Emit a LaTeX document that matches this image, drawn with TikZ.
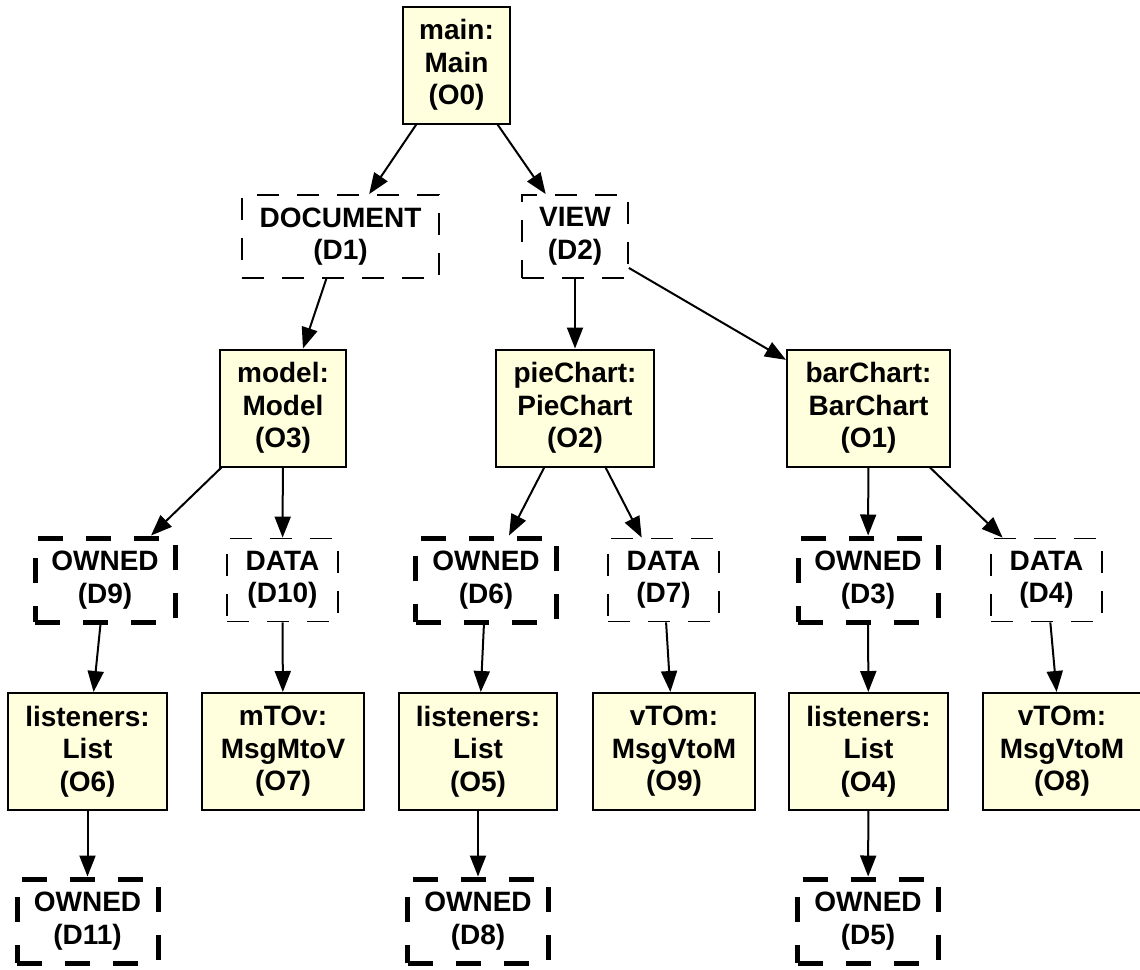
\documentclass[tikz,border=0pt]{standalone}
\usepackage{fontspec}
\setmainfont{Liberation Sans}
\usetikzlibrary{arrows.meta}
\definecolor{objfill}{RGB}{255,255,221}
\begin{document}
\begin{tikzpicture}[x=1pt,y=-1pt,
  lbl/.style={font=\fontsize{28}{32.5}\selectfont\bfseries, align=center, inner sep=0pt},
  objbox/.style={lbl, draw=black, line width=2pt, fill=objfill, minimum height=117pt},
  dimbox/.style={lbl, draw=black, line width=1.8pt, dash pattern=on 22pt off 18pt, minimum height=83pt},
  ownbox/.style={lbl, draw=black, line width=5pt, dash pattern=on 25pt off 23pt, minimum height=84pt},
  link/.style={draw=black, line width=2pt, -{Triangle[length=21pt,width=16pt]}}
]
\useasboundingbox (0,0) rectangle (1140,969);

% objects and dimensions, top to bottom
\node[objbox, minimum width=107pt] (O0) at (456.5,65) {main:\\Main\\(O0)};

\node[dimbox, minimum width=197pt] (D1) at (340.5,236.5) {DOCUMENT\\(D1)};
\node[dimbox, minimum width=106pt] (D2) at (575,236.5) {VIEW\\(D2)};

\node[objbox, minimum width=126pt] (O3) at (283,408) {model:\\Model\\(O3)};
\node[objbox, minimum width=158pt] (O2) at (575,408) {pieChart:\\PieChart\\(O2)};
\node[objbox, minimum width=163pt] (O1) at (868.5,408) {barChart:\\BarChart\\(O1)};

\node[ownbox, minimum width=140pt] (D9) at (105,580) {OWNED\\(D9)};
\node[dimbox, minimum width=111pt] (D10) at (282.5,580) {DATA\\(D10)};
\node[ownbox, minimum width=141pt] (D6) at (486,580) {OWNED\\(D6)};
\node[dimbox, minimum width=111pt] (D7) at (663.5,580) {DATA\\(D7)};
\node[ownbox, minimum width=140pt] (D3) at (868,580) {OWNED\\(D3)};
\node[dimbox, minimum width=111pt] (D4) at (1046.5,580) {DATA\\(D4)};

\node[objbox, minimum width=159pt] (O6) at (87.5,751.5) {listeners:\\List\\(O6)};
\node[objbox, minimum width=162pt] (O7) at (283,751.5) {mTOv:\\MsgMtoV\\(O7)};
\node[objbox, minimum width=158pt] (O5) at (478,751.5) {listeners:\\List\\(O5)};
\node[objbox, minimum width=162pt] (O9) at (674,751.5) {vTOm:\\MsgVtoM\\(O9)};
\node[objbox, minimum width=159pt] (O4) at (868.5,751.5) {listeners:\\List\\(O4)};
\node[objbox, minimum width=158pt] (O8) at (1062,751.5) {vTOm:\\MsgVtoM\\(O8)};

\node[ownbox, minimum width=141pt] (D11) at (87.5,921) {OWNED\\(D11)};
\node[ownbox, minimum width=141pt] (D8) at (478,921) {OWNED\\(D8)};
\node[ownbox, minimum width=141pt] (D5) at (868,921) {OWNED\\(D5)};

% connectors
\draw[link] (O0) -- (D1);
\draw[link] (O0) -- (D2);
\draw[link] (D1) -- (O3);
\draw[link] (D2) -- (O2);
\draw[link] (D2) -- (O1);
\draw[link] (O3) -- (D9);
\draw[link] (O3) -- (D10);
\draw[link] (O2) -- (D6);
\draw[link] (O2) -- (D7);
\draw[link] (O1) -- (D3);
\draw[link] (O1) -- (D4);
\draw[link] (D9) -- (O6);
\draw[link] (D10) -- (O7);
\draw[link] (D6) -- (O5);
\draw[link] (D7) -- (O9);
\draw[link] (D3) -- (O4);
\draw[link] (D4) -- (O8);
\draw[link] (O6) -- (D11);
\draw[link] (O5) -- (D8);
\draw[link] (O4) -- (D5);
\end{tikzpicture}
\end{document}
